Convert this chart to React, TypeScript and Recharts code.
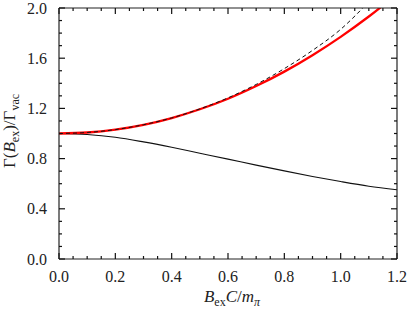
import { LineChart, Line, XAxis, YAxis } from "recharts";

// values
const xValues = [0, 0.1, 0.2, 0.3, 0.4, 0.5, 0.6, 0.7, 0.8, 0.9, 1.0, 1.1, 1.2];
const redCurve = [1.0, 1.008, 1.031, 1.069, 1.123, 1.193, 1.277, 1.378, 1.493, 1.624, 1.77, 1.932, 2.11];
const dashedCurve = [1.0, 1.008, 1.031, 1.07, 1.124, 1.196, 1.284, 1.391, 1.517, 1.662, 1.83, 2.05, 2.3];
const blackCurve = [1.0, 0.992, 0.97, 0.933, 0.89, 0.843, 0.796, 0.748, 0.702, 0.658, 0.617, 0.58, 0.552];

const xMajorTicks = [0, 0.2, 0.4, 0.6, 0.8, 1.0, 1.2];
const yMajorTicks = [0, 0.4, 0.8, 1.2, 1.6, 2.0];

// minor ticks every 0.05 on x, every 0.1 on y
const xTicks = Array.from({ length: 25 }, (_, i) => Math.round(i * 5) / 100);
const yTicks = Array.from({ length: 21 }, (_, i) => i / 10);

const data = xValues.map((x, i) => ({
  x,
  red: redCurve[i],
  dashed: dashedCurve[i],
  black: blackCurve[i],
}));

const FONT = '"Liberation Serif", serif';
const AXIS = "#222";
const MINOR = 3; // built-in tick line length (inward)
const EXTRA = 3; // extra length for major ticks

const isMajor = (v: number, list: number[]) => list.some((t) => Math.abs(t - v) < 1e-6);
const tickLineStyle = { stroke: "#111", strokeWidth: 1.2 };

// y here is the inner end of the built-in tick line
const bottomTick = (p: any) => {
  const { x, y, payload } = p;
  const major = isMajor(payload.value, xMajorTicks);
  if (!major) return <g />;
  return (
    <g>
      <line x1={x} x2={x} y1={y} y2={y - EXTRA} stroke="#111" strokeWidth={1.2} />
      <text x={x} y={y + MINOR + 23} textAnchor="middle" fontSize={16} fontFamily={FONT} fill="#222">
        {payload.value.toFixed(1)}
      </text>
    </g>
  );
};

const topTick = (p: any) => {
  const { x, y, payload } = p;
  if (!isMajor(payload.value, xMajorTicks)) return <g />;
  return <line x1={x} x2={x} y1={y} y2={y + EXTRA} stroke="#111" strokeWidth={1.2} />;
};

const leftTick = (p: any) => {
  const { x, y, payload } = p;
  if (!isMajor(payload.value, yMajorTicks)) return <g />;
  return (
    <g>
      <line x1={x} x2={x + EXTRA} y1={y} y2={y} stroke="#111" strokeWidth={1.2} />
      <text x={x - MINOR - 12} y={y + 5.5} textAnchor="end" fontSize={16} fontFamily={FONT} fill="#222">
        {payload.value.toFixed(1)}
      </text>
    </g>
  );
};

const rightTick = (p: any) => {
  const { x, y, payload } = p;
  if (!isMajor(payload.value, yMajorTicks)) return <g />;
  return <line x1={x} x2={x - EXTRA} y1={y} y2={y} stroke="#111" strokeWidth={1.2} />;
};

const XTitle = ({ viewBox }: any) => {
  const cx = viewBox.x + viewBox.width / 2 + 4;
  const by = viewBox.y + 43;
  return (
    <text x={cx} y={by} textAnchor="middle" fontSize={17} fontFamily={FONT} fill="#222">
      <tspan fontStyle="italic">B</tspan>
      <tspan fontSize={12} dy={4}>ex</tspan>
      <tspan fontStyle="italic" dy={-4}>C</tspan>
      <tspan>/</tspan>
      <tspan fontStyle="italic">m</tspan>
      <tspan fontSize={12} fontStyle="italic" dy={4}>π</tspan>
    </text>
  );
};

const YTitle = () => {
  const x = 15;
  const y = 131;
  return (
    <text
      x={x}
      y={y}
      transform={`rotate(-90, ${x}, ${y})`}
      textAnchor="middle"
      fontSize={17}
      fontFamily={FONT}
      fill="#222"
    >
      <tspan>Γ(</tspan>
      <tspan fontStyle="italic">B</tspan>
      <tspan fontSize={12} dy={4}>ex</tspan>
      <tspan dy={-4}>)/Γ</tspan>
      <tspan fontSize={12} dy={4}>vac</tspan>
    </text>
  );
};

export default function App() {
  return (
    <div style={{ position: "absolute", left: 0, top: 0 }}>
      <LineChart width={407} height={309} data={data} margin={{ top: 7, right: 9, left: 0, bottom: 0 }}>
        <XAxis
          dataKey="x"
          type="number"
          domain={[0, 1.2]}
          allowDataOverflow
          ticks={xTicks}
          interval={0}
          tickSize={-MINOR}
          tickMargin={0}
          tickLine={tickLineStyle}
          tick={bottomTick}
          height={50}
          axisLine={{ stroke: AXIS, strokeWidth: 1.2 }}
          label={{ content: <XTitle /> }}
        />
        <XAxis
          xAxisId="top"
          orientation="top"
          dataKey="x"
          type="number"
          domain={[0, 1.2]}
          allowDataOverflow
          ticks={xTicks}
          interval={0}
          tickSize={-MINOR}
          tickMargin={0}
          tickLine={tickLineStyle}
          tick={topTick}
          height={1}
          axisLine={{ stroke: AXIS, strokeWidth: 1.2 }}
        />
        <YAxis
          type="number"
          domain={[0, 2]}
          allowDataOverflow
          ticks={yTicks}
          interval={0}
          tickSize={-MINOR}
          tickMargin={0}
          tickLine={tickLineStyle}
          tick={leftTick}
          width={59}
          axisLine={{ stroke: AXIS, strokeWidth: 1.2 }}
          label={{ content: <YTitle /> }}
        />
        <YAxis
          yAxisId="right"
          orientation="right"
          type="number"
          domain={[0, 2]}
          allowDataOverflow
          ticks={yTicks}
          interval={0}
          tickSize={-MINOR}
          tickMargin={0}
          tickLine={tickLineStyle}
          tick={rightTick}
          width={1}
          axisLine={{ stroke: AXIS, strokeWidth: 1.2 }}
        />
        <Line
          dataKey="black"
          type="monotone"
          stroke="#111"
          strokeWidth={1.1}
          dot={false}
          isAnimationActive={false}
        />
        <Line
          dataKey="red"
          type="monotone"
          stroke="#ff0000"
          strokeWidth={2.3}
          dot={false}
          isAnimationActive={false}
        />
        <Line
          dataKey="dashed"
          type="monotone"
          stroke="#111"
          strokeWidth={1}
          strokeDasharray="4 3"
          dot={false}
          isAnimationActive={false}
        />
      </LineChart>
    </div>
  );
}
